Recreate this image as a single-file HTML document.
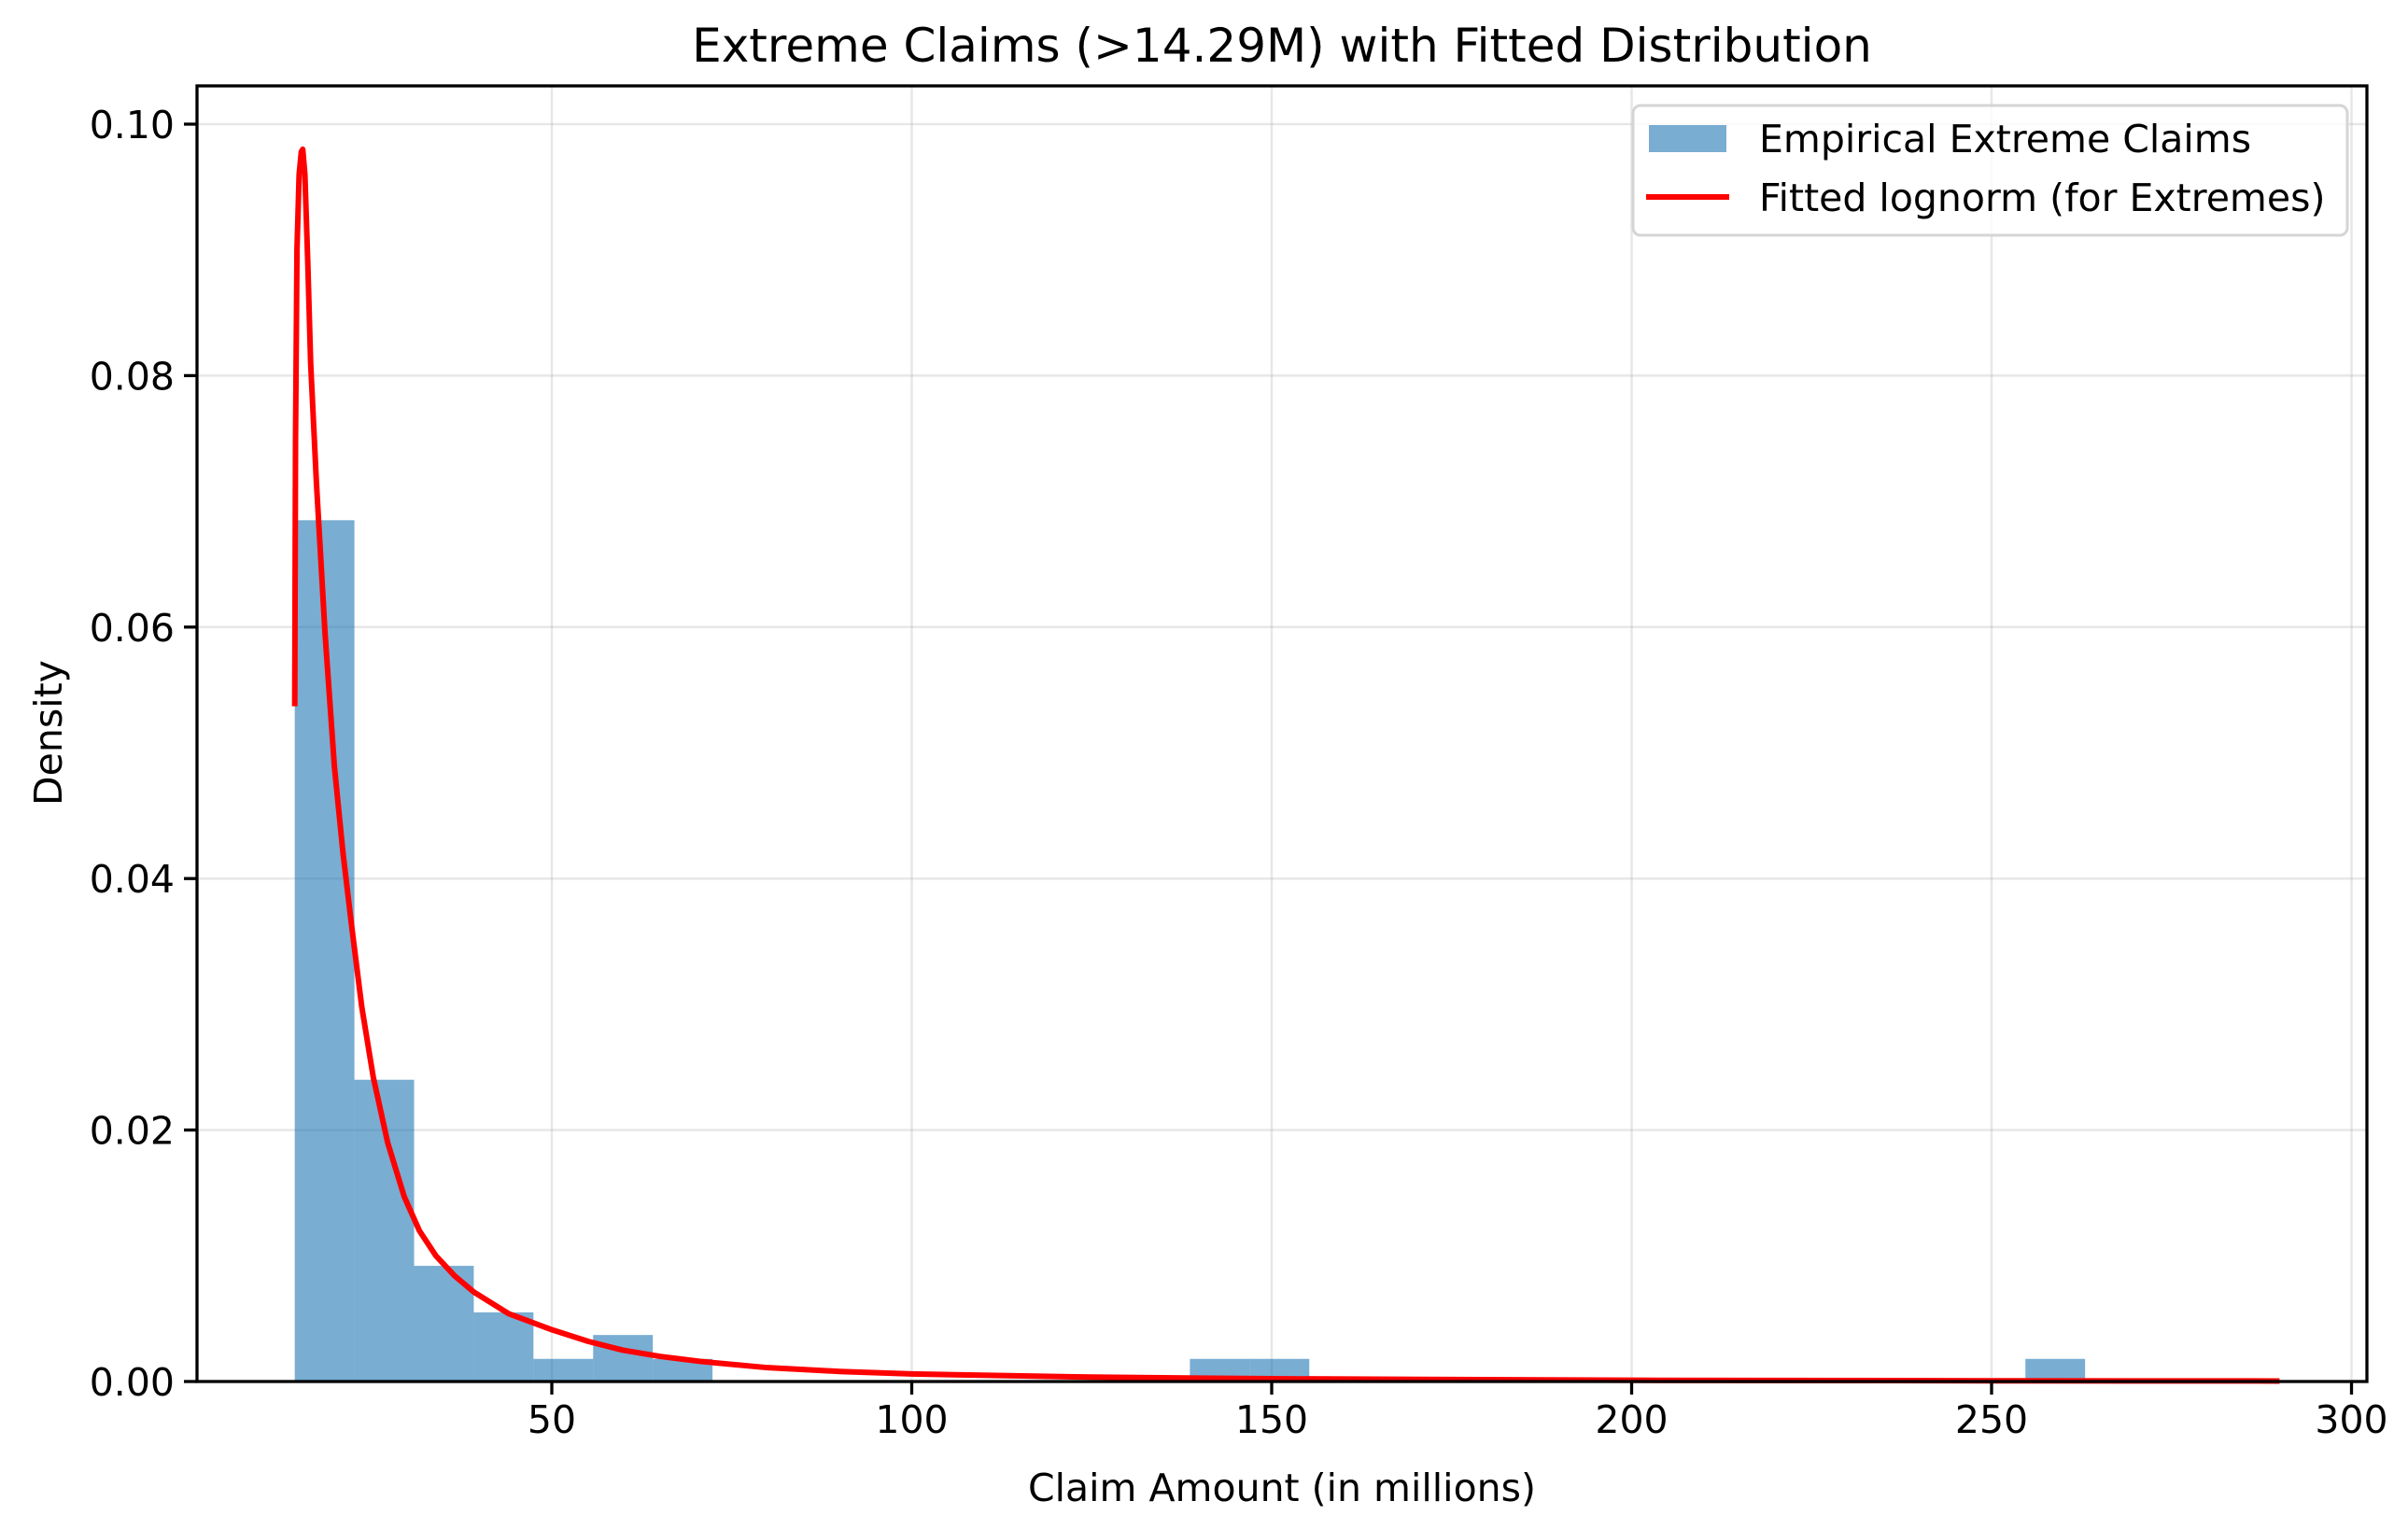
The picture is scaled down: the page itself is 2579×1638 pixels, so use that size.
<!DOCTYPE html>
<html><head><meta charset="utf-8"><style>
html,body{margin:0;padding:0;background:#fff;}
svg{display:block;font-family:"DejaVu Sans","Liberation Sans",sans-serif;}
</style></head><body>
<svg id="chart" width="2579" height="1638" viewBox="0 0 2579 1638" xmlns="http://www.w3.org/2000/svg">
<rect width="2579" height="1638" fill="#fff"/>
<g id="grid"></g>
<g id="bars"></g>
<g id="curve"></g>
<g id="axes"></g>
<text x="1373" y="66" font-size="50" text-anchor="middle">Extreme Claims (&gt;14.29M) with Fitted Distribution</text>
<text x="1373" y="1608" font-size="41" text-anchor="middle">Claim Amount (in millions)</text>
<text transform="translate(66,785) rotate(-90)" font-size="41" text-anchor="middle">Density</text>
<g>
<rect x="1749" y="113" width="765" height="139" rx="8" fill="#fff" fill-opacity="0.8" stroke="#d5d5d5" stroke-width="3"/>
<rect x="1766" y="134" width="83" height="29" fill="#1f77b4" fill-opacity="0.6"/>
<text x="1884" y="163" font-size="41">Empirical Extreme Claims</text>
<line x1="1763" y1="211" x2="1852" y2="211" stroke="#ff0000" stroke-width="6"/>
<text x="1884" y="226" font-size="41">Fitted lognorm (for Extremes)</text>
</g>
</svg>
<script>
const binStart = 14.29;
const binWidth = 8.29;
const binDensities = [0.0685,0.024,0.0092,0.0055,0.0018,0.0037,0.0018,0,0,0,0,0,0,0,0,0.0018,0.0018,0,0,0,0,0,0,0,0,0,0,0,0,0.0018];
const curveX = [14.29,14.4,14.6,14.9,15.2,15.4,15.7,16.1,16.5,17.3,18.5,19.8,21,22.2,23.6,25.2,27.2,29.5,31.6,33.9,36.5,39.2,44,50.1,55,59.8,65,70.6,80,90,100,125,150,200,250,290];
const curveY = [0.0537,0.075,0.09,0.096,0.0978,0.098,0.096,0.089,0.081,0.0715,0.0595,0.0489,0.042,0.0362,0.0298,0.0242,0.019,0.0147,0.012,0.0100,0.0084,0.0071,0.0054,0.0041,0.0032,0.0025,0.002,0.0016,0.0011,0.0008,0.0006,0.00035,0.00022,0.0001,0.00006,0.00004];
const xTicks = [50,100,150,200,250,300];
const yTicks = [0,0.02,0.04,0.06,0.08,0.10];
const yTickLabels = ["0.00","0.02","0.04","0.06","0.08","0.10"];

const L=211,R=2535,T=92,B=1480;
const xs = v => 591 + (v-50)*7.71;
const ys = v => 1480 - v*13470;
const NS="http://www.w3.org/2000/svg";
function mk(tag,attrs,parent){const e=document.createElementNS(NS,tag);for(const k in attrs)e.setAttribute(k,attrs[k]);parent.appendChild(e);return e;}
const grid=document.getElementById('grid'),bars=document.getElementById('bars'),curve=document.getElementById('curve'),axes=document.getElementById('axes');

xTicks.forEach(t=>{
  const g=mk('line',{x1:xs(t),x2:xs(t),y1:T,y2:B,stroke:'#b0b0b0','stroke-opacity':0.3,'stroke-width':2.5},grid);
  
  
  const tk=mk('line',{x1:xs(t),x2:xs(t),y1:B,y2:B+14,stroke:'#000','stroke-width':3.3},axes);
  
  
  const lb=mk('text',{x:xs(t),y:B+55,'font-size':41,'text-anchor':'middle'},axes);
  lb.textContent=t;
  
  
});
yTicks.forEach((t,i)=>{
  const g=mk('line',{x1:L,x2:R,y1:ys(t),y2:ys(t),stroke:'#b0b0b0','stroke-opacity':0.3,'stroke-width':2.5},grid);
  
  
  const tk=mk('line',{x1:L-14,x2:L,y1:ys(t),y2:ys(t),stroke:'#000','stroke-width':3.3},axes);
  
  
  const lb=mk('text',{x:L-24,y:ys(t)+15,'font-size':41,'text-anchor':'end'},axes);
  lb.textContent=yTickLabels[i];
  
  
});
binDensities.forEach((d,i)=>{
  if(d<=0)return;
  const x0=xs(binStart+i*binWidth),x1=xs(binStart+(i+1)*binWidth);
  const r=mk('rect',{x:x0,y:ys(d),width:x1-x0,height:B-ys(d),fill:'#1f77b4','fill-opacity':0.6},bars);
  
  
});
const p=mk('polyline',{points:curveX.map((x,i)=>xs(x)+','+ys(curveY[i])).join(' '),fill:'none',stroke:'#ff0000','stroke-width':6,'stroke-linejoin':'round'},curve);


const f=mk('rect',{x:L,y:T,width:R-L,height:B-T,fill:'none',stroke:'#000','stroke-width':3.3},axes);


</script>
</body></html>
